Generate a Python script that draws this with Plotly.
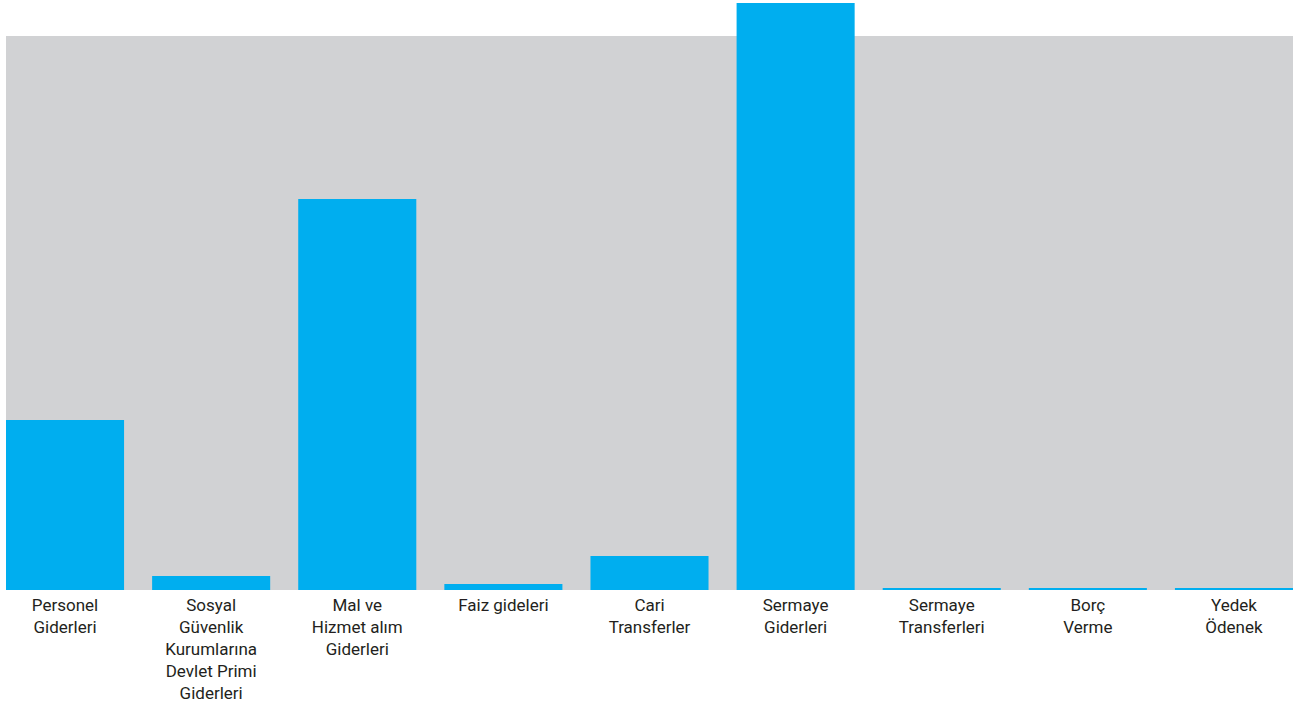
import plotly.graph_objects as go

categories = [
    "Personel<br>Giderleri",
    "Sosyal<br>Güvenlik<br>Kurumlarına<br>Devlet Primi<br>Giderleri",
    "Mal ve<br>Hizmet alım<br>Giderleri",
    "Faiz gideleri",
    "Cari<br>Transferler",
    "Sermaye<br>Giderleri",
    "Sermaye<br>Transferleri",
    "Borç<br>Verme",
    "Yedek<br>Ödenek",
]
values = [170, 14, 391, 6, 34, 587, 2, 2, 2]
background_top = 554
axis_top = 590

fig = go.Figure()
fig.add_trace(go.Bar(
    x=list(range(len(categories))),
    y=values,
    marker=dict(color="#00AEEF", line=dict(width=0)),
    hoverinfo="skip",
))
fig.add_shape(type="rect", xref="paper", yref="y", x0=0, x1=1, y0=0, y1=background_top,
              fillcolor="#D1D2D4", line=dict(width=0), layer="below")

fig.update_layout(
    width=1302, height=702,
    margin=dict(l=6, r=9, t=0, b=112),
    plot_bgcolor="white", paper_bgcolor="white",
    bargap=0.192,
    showlegend=False,
    font=dict(family="Roboto, sans-serif", size=17, color="#231F20"),
    xaxis=dict(
        tickmode="array", tickvals=list(range(len(categories))), ticktext=categories,
        range=[-0.404, len(categories) - 1 + 0.404],
        showgrid=False, zeroline=False, showline=False, ticks="",
        ticklabelstandoff=3, automargin=False,
    ),
    yaxis=dict(range=[0, axis_top], visible=False, showgrid=False, zeroline=False,
               automargin=False),
)
fig.write_html("out.html", config={"displayModeBar": False},
               post_script="document.body.style.margin='0';")
